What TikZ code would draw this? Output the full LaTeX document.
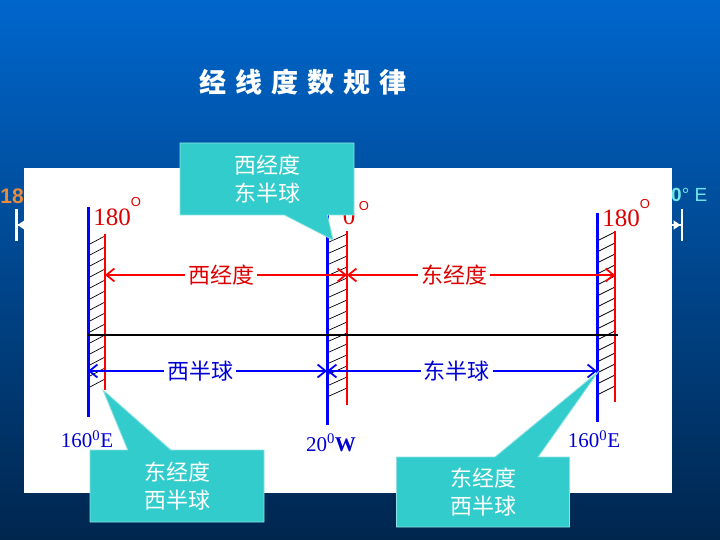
\documentclass[tikz,border=0pt]{standalone}
\usepackage{fontspec}
\setmainfont{Liberation Serif}
\setsansfont{Liberation Sans}
\newfontfamily\cjk{Noto Sans CJK SC}
\usetikzlibrary{arrows.meta, shapes.callouts}
\definecolor{bgtop}{RGB}{0,102,204}
\definecolor{bgmid}{RGB}{10,72,150}
\definecolor{bgbot}{RGB}{0,38,78}
\definecolor{merblue}{RGB}{0,0,255}
\definecolor{merred}{RGB}{255,0,0}
\definecolor{labblue}{RGB}{0,0,210}
\definecolor{labred}{RGB}{220,0,0}
\definecolor{callfill}{RGB}{51,204,204}
\definecolor{callrim}{RGB}{140,225,225}
\definecolor{oldorange}{RGB}{230,140,60}
\definecolor{oldcyan}{RGB}{110,230,230}

\begin{document}
\begin{tikzpicture}[x=1pt, y=-1pt,
  bline/.style={draw=merblue, line width=3pt},
  rline/.style={draw=merred, line width=2pt},
  hatch/.style={draw=black, line width=.7pt},
  eqline/.style={draw=black, line width=2pt},
  redarr/.style={draw=merred, line width=1.8pt, {Straight Barb[length=8pt,width=13pt]}-{Straight Barb[length=8pt,width=13pt]}},
  bluearr/.style={draw=merblue, line width=1.8pt, {Straight Barb[length=8pt,width=13pt]}-{Straight Barb[length=8pt,width=13pt]}},
  redlab/.style={fill=white, text=labred, inner sep=3pt, font=\cjk\fontsize{22}{22}\selectfont},
  bluelab/.style={fill=white, text=labblue, inner sep=3pt, font=\cjk\fontsize{22}{22}\selectfont},
  deglab/.style={text=labred, inner sep=0pt, font=\fontsize{25}{25}\selectfont},
  degsup/.style={text=labred, inner sep=0pt, font=\sffamily\fontsize{13}{13}\selectfont},
  lonlab/.style={text=labblue, inner sep=0pt, font=\fontsize{21}{21}\selectfont},
  callbox/.style={rectangle callout, fill=callfill, draw=callrim, line width=.8pt,
                  callout pointer width=43pt, text=white, align=center,
                  font=\cjk\fontsize{22}{28}\selectfont},
  ttl/.style={text=white, inner sep=0pt, font=\cjk\bfseries\fontsize{27}{27}\selectfont},
  oldarrow/.style={draw=white, line width=2.5pt,
                   {Bar[width=32pt]Triangle[length=7pt,width=9pt]}-{Triangle[length=7pt,width=9pt]Bar[width=32pt]}},
]
\useasboundingbox (0,0) rectangle (720,540);
\shade[top color=bgtop, middle color=bgmid, bottom color=bgbot] (0,0) rectangle (720,540);

% leftovers of the slide behind the white panel
\coordinate (oldL) at (15,225);
\coordinate (oldR) at (683,225);
\draw[oldarrow] (oldL) -- (oldR);
\node[text=oldorange, anchor=east, inner sep=0pt, font=\sffamily\bfseries\fontsize{21}{21}\selectfont] (old18) at (24,196) {18};
\node[text=oldcyan, anchor=west, inner sep=0pt, font=\sffamily\fontsize{19}{19}\selectfont] (oldE) at (671,195) {\textbf{0}° E};

\fill[white] (24,168) rectangle (672,493);

% hatching between the meridian pairs
\foreach \y in {240,251,...,386} \draw[hatch] (88,\y+5) -- (105,\y-4);
\foreach \y in {238,249,...,400} \draw[hatch] (327,\y+5) -- (347,\y-4);
\foreach \y in {236,247,...,400} \draw[hatch] (597,\y+5) -- (615,\y-4);

% meridians
\coordinate (lbT) at (88,207);  \coordinate (lbB) at (88,417);
\coordinate (lrT) at (105,234); \coordinate (lrB) at (105,390);
\coordinate (mbT) at (327,207); \coordinate (mbB) at (327,425);
\coordinate (mrT) at (347,231); \coordinate (mrB) at (347,405);
\coordinate (rbT) at (597,213); \coordinate (rbB) at (597,422);
\coordinate (rrT) at (615,231); \coordinate (rrB) at (615,402);
\draw[bline] (lbT) -- (lbB);
\draw[rline] (lrT) -- (lrB);
\draw[bline] (mbT) -- (mbB);
\draw[rline] (mrT) -- (mrB);
\draw[bline] (rbT) -- (rbB);
\draw[rline] (rrT) -- (rrB);

% equator
\coordinate (eqL) at (88,335);
\coordinate (eqR) at (618,335);
\draw[eqline] (eqL) -- (eqR);

% longitude and hemisphere ranges
\coordinate (wA) at (105,275); \coordinate (wB) at (347,275); \coordinate (eB) at (615,275);
\coordinate (hA) at (88,371);  \coordinate (hB) at (327,371); \coordinate (hC) at (597,371);
\draw[redarr] (wA) -- node[redlab, pos=.48] (wlon) {西经度} (wB);
\draw[redarr] (wB) -- node[redlab, pos=.40] (elon) {东经度} (eB);
\draw[bluearr] (hA) -- node[bluelab, pos=.47] (whem) {西半球} (hB);
\draw[bluearr] (hB) -- node[bluelab, pos=.48] (ehem) {东半球} (hC);

% degree labels
\node[deglab] (dL)  at (112,217) {180};
\node[degsup] (dLo) at (136,202) {O};
\node[deglab] (dM)  at (349,216) {0};
\node[degsup] (dMo) at (364,206) {O};
\node[deglab] (dR)  at (621,218) {180};
\node[degsup] (dRo) at (645,204) {O};

\node[lonlab] (gL) at (87,439)  {160\textsuperscript{0}E};
\node[lonlab] (gM) at (331,443) {20\textsuperscript{0}\textbf{W}};
\node[lonlab] (gR) at (594,439) {160\textsuperscript{0}E};

% callouts
\coordinate (p1) at (333,240);
\coordinate (p2) at (103,390);
\coordinate (p3) at (598,372);
\node[callbox, minimum width=174pt, minimum height=72pt, callout absolute pointer={(p1)}] (c1) at (267,179) {西经度\\东半球};
\node[callbox, minimum width=174pt, minimum height=72pt, callout absolute pointer={(p2)}] (c2) at (177,486) {东经度\\西半球};
\node[callbox, minimum width=173pt, minimum height=70pt, callout absolute pointer={(p3)}] (c3) at (483,492) {东经度\\西半球};

% title
\node[ttl] (title) at (303,82) {经\hspace{9pt}线\hspace{9pt}度\hspace{9pt}数\hspace{9pt}规\hspace{9pt}律};
\end{tikzpicture}
\end{document}
